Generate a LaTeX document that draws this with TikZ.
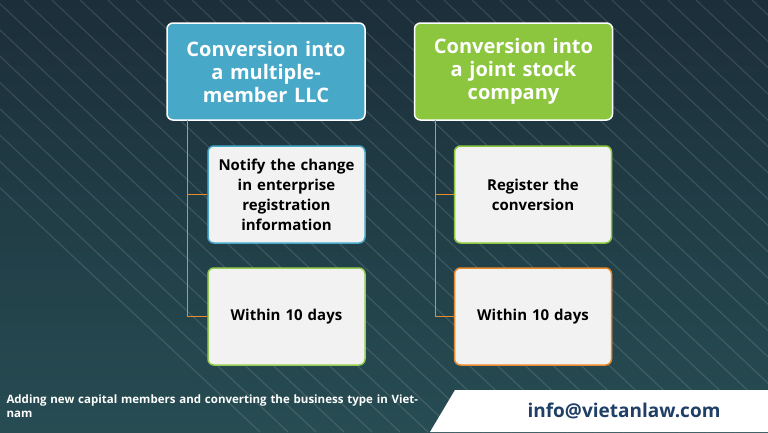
\documentclass[tikz,border=0pt]{standalone}
\usepackage{fontspec}
\setmainfont{Open Sans}
\usetikzlibrary{positioning}
\definecolor{bgdark}{HTML}{16202E}
\definecolor{bgteal}{HTML}{2C5A5E}
\definecolor{headblue}{HTML}{48A8C8}
\definecolor{headgreen}{HTML}{8CC63F}
\definecolor{linkorange}{HTML}{E88A2E}
\definecolor{mailblue}{HTML}{1F3F66}
\tikzset{every node/.style={align=center, font=\bfseries}}
\tikzset{headbox/.style={draw=white, line width=1.5pt, rounded corners=6pt, minimum width=198pt, minimum height=97pt, text width=185pt, text=white, font=\bfseries\fontsize{20}{23}\selectfont}}
\tikzset{stepbox/.style={fill=gray!10, line width=1.5pt, rounded corners=6pt, minimum width=157pt, minimum height=97pt, text width=145pt, text=black, font=\bfseries\fontsize{15}{20}\selectfont}}
\tikzset{link/.style={draw=linkorange, line width=1pt}}

\begin{document}
\begin{tikzpicture}[x=1pt, y=-1pt]
  \useasboundingbox (0,0) rectangle (768,432);
  % background
  \begin{scope}
    \clip (0,0) rectangle (768,432);
    \shade[shading=axis, shading angle=45, top color=bgdark, bottom color=bgteal] (-200,-200) rectangle (968,632);
    \foreach \k in {0,...,34}
      \draw[white, opacity=0.12, line width=1.2pt] (-200+\k*28,0) -- (\k*28+260,432);
  \end{scope}

  \node (llc) [headbox, fill=headblue] at (266,71.5) {Conversion into\\a multiple-\\member LLC};
  \node (jsc) [headbox, fill=headgreen] at (513.5,71.5) {Conversion into\\a joint stock\\company};

  \node (notify) [stepbox, draw=headblue] at (286.5,194.5) {Notify the change in enterprise registration information};
  \node (ldays) [stepbox, draw=headgreen!90!white] at (286.5,316.5) {Within 10 days};
  \node (register) [stepbox, draw=headgreen] at (533,194.5) {Register the conversion};
  \node (rdays) [stepbox, draw=linkorange] at (533,316.5) {Within 10 days};

  \coordinate (ltop) at (187,120);
  \coordinate (rtop) at (435,120);
  \draw[link] (ltop) |- (ldays.west);
  \draw[link] (ltop |- notify.west) -- (notify.west);
  \draw[link] (rtop) |- (rdays.west);
  \draw[link] (rtop |- register.west) -- (register.west);

  % footer
  \node (title) [anchor=north west, text=white, align=left, text width=420pt, font=\bfseries\fontsize{11.5}{14}\selectfont] at (3,391) {Adding new capital members and converting the business type in Vietnam};
  \fill[white] (455,390) -- (768,390) -- (768,432) -- (430,432) -- cycle;
  \node (mail) [text=mailblue, font=\bfseries\fontsize{19}{22}\selectfont] at (624,411) {info@vietanlaw.com};
\end{tikzpicture}
\end{document}
